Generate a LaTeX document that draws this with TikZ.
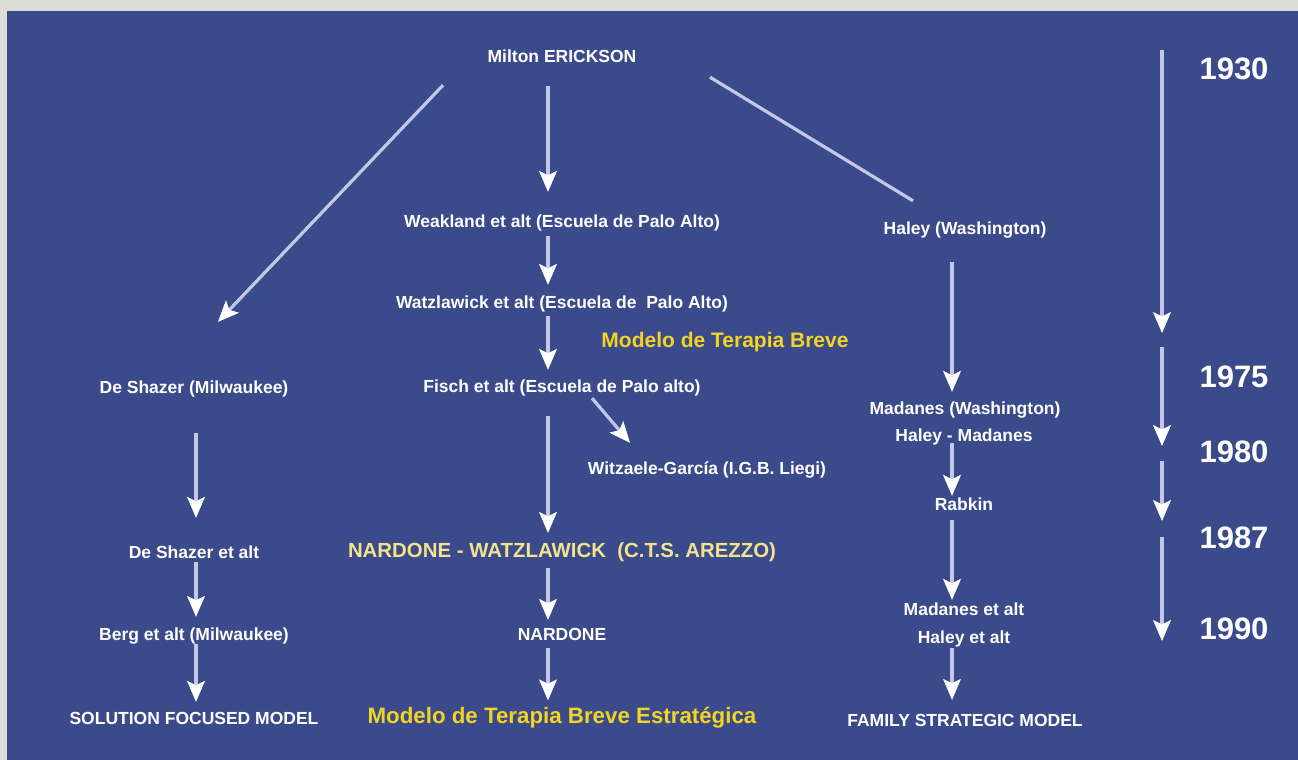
\documentclass[tikz,border=0pt]{standalone}
\usepackage{fontspec}
\setmainfont{Liberation Sans}
\usetikzlibrary{arrows.meta}
\definecolor{bgblue}{HTML}{3B4A8B}
\definecolor{bggray}{HTML}{DCDDD6}
\definecolor{linec}{HTML}{C4C8E8}
\definecolor{ylw}{HTML}{F2D422}
\definecolor{pale}{HTML}{F2E38E}
\tikzset{
  lbl/.style={font=\bfseries\fontsize{17.5}{20}\selectfont, text=white, inner xsep=0pt, inner ysep=1.8pt, text height=12.4pt, text depth=0pt},
  big/.style={font=\bfseries\fontsize{20.4}{24}\selectfont, text=pale, inner xsep=0pt, inner ysep=2.2pt, text height=14.5pt, text depth=0pt},
  ylab/.style={font=\bfseries\fontsize{21}{25}\selectfont, text=ylw, inner xsep=0pt, inner ysep=2pt, text height=15pt, text depth=0pt},
  year/.style={font=\bfseries\fontsize{31}{36}\selectfont, text=white, inner sep=0pt, text height=22pt, text depth=0pt},
  ln/.style={line width=3.2pt, draw=linec},
  arr/.style={ln, -{Stealth[length=21pt,width=18pt,inset=4.5pt,line width=0.8pt,fill=white,color=white]}},
}
\begin{document}
\begin{tikzpicture}[x=1pt,y=-1pt]
\useasboundingbox (0,0) rectangle (1298,760);
\fill[bggray] (0,0) rectangle (1298,760);
\fill[bgblue] (7,11) rectangle (1298,760);

% middle column
\node[lbl] (erick) at (562,56) {Milton ERICKSON};
\node[lbl] (weak) at (562,221) {Weakland et alt (Escuela de Palo Alto)};
\node[lbl] (watz) at (562,302) {Watzlawick et alt (Escuela de\ \ Palo Alto)};
\node[ylab] (mtb) at (725,340) {Modelo de Terapia Breve};
\node[lbl] (fisch) at (562,386) {Fisch et alt (Escuela de Palo alto)};
\node[lbl] (witz) at (707,468) {Witzaele-García (I.G.B. Liegi)};
\node[big] (nw) at (562,550) {NARDONE - WATZLAWICK\ \ (C.T.S. AREZZO)};
\node[lbl] (nard) at (562,634) {NARDONE};
\node[ylab, font=\bfseries\fontsize{22.3}{26}\selectfont] (mtbe) at (562,716) {Modelo de Terapia Breve Estratégica};

% left column
\node[lbl] (ds) at (194,387) {De Shazer (Milwaukee)};
\node[lbl] (dse) at (194,552) {De Shazer et alt};
\node[lbl] (berg) at (194,634) {Berg et alt (Milwaukee)};
\node[lbl] (sol) at (194,718) {SOLUTION FOCUSED MODEL};

% right column
\node[lbl] (haley) at (965,228) {Haley (Washington)};
\node[lbl] (madw) at (965,408) {Madanes (Washington)};
\node[lbl] (hm) at (964,435) {Haley - Madanes};
\node[lbl] (rab) at (964,504) {Rabkin};
\node[lbl] (mea) at (964,609) {Madanes et alt};
\node[lbl] (hea) at (964,637) {Haley et alt};
\node[lbl] (fam) at (965,720) {FAMILY STRATEGIC MODEL};

% years
\node[year] (y1930) at (1234,68) {1930};
\node[year] (y1975) at (1234,376) {1975};
\node[year] (y1980) at (1234,451) {1980};
\node[year] (y1987) at (1234,537) {1987};
\node[year] (y1990) at (1234,628) {1990};

% column coordinates
\coordinate (cM) at (548,0);
\coordinate (cL) at (196,0);
\coordinate (cR) at (952,0);

% middle arrows
\draw[arr, shorten <=22pt, shorten >=21pt] (erick.south -| cM) -- (weak.north -| cM);
\draw[arr, shorten <=7pt, shorten >=9pt] (weak.south -| cM) -- (watz.north -| cM);
\draw[arr, shorten <=6pt, shorten >=8pt] (watz.south -| cM) -- (fisch.north -| cM);
\draw[arr, shorten <=22pt, shorten >=7.5pt] (fisch.south -| cM) -- (nw.north -| cM);
\draw[arr, shorten <=8.5pt, shorten >=6pt] (nw.south -| cM) -- (nard.north -| cM);
\draw[arr, shorten <=6pt, shorten >=6pt] (nard.south -| cM) -- (mtbe.north -| cM);
\draw[arr] ([shift={(30,4)}]fisch.south) -- ([shift={(-77,-17)}]witz.north);

% diagonals from Erickson
\draw[arr] ([shift={(-119,21)}]erick.south) -- ([shift={(24,-57)}]ds.north);
\draw[ln] ([shift={(148,13)}]erick.south) -- ([shift={(-52,-19)}]haley.north);

% left arrows
\draw[arr, shorten <=38pt, shorten >=26pt] (ds.south -| cL) -- (dse.north -| cL);
\draw[arr, shorten <=2pt, shorten >=9pt] (dse.south -| cL) -- (berg.north -| cL);
\draw[arr, shorten <=2pt, shorten >=8pt] (berg.south -| cL) -- (sol.north -| cL);

% right arrows
\draw[arr, shorten <=26pt, shorten >=8pt] (haley.south -| cR) -- (madw.north -| cR);
\draw[arr, shorten <=0pt, shorten >=0pt] (hm.south -| cR) -- (rab.north -| cR);
\draw[arr, shorten <=8pt, shorten >=1pt] (rab.south -| cR) -- (mea.north -| cR);
\draw[arr, shorten <=3pt, shorten >=12pt] (hea.south -| cR) -- (fam.north -| cR);

% timeline
\coordinate (t0) at (1162,50);
\coordinate (t1) at (1162,333);
\coordinate (t2) at (1162,347);
\coordinate (t3) at (1162,446);
\coordinate (t4) at (1162,461);
\coordinate (t5) at (1162,521);
\coordinate (t6) at (1162,537);
\coordinate (t7) at (1162,641);
\draw[arr] (t0) -- (t1);
\draw[arr] (t2) -- (t3);
\draw[arr] (t4) -- (t5);
\draw[arr] (t6) -- (t7);
\end{tikzpicture}
\end{document}
